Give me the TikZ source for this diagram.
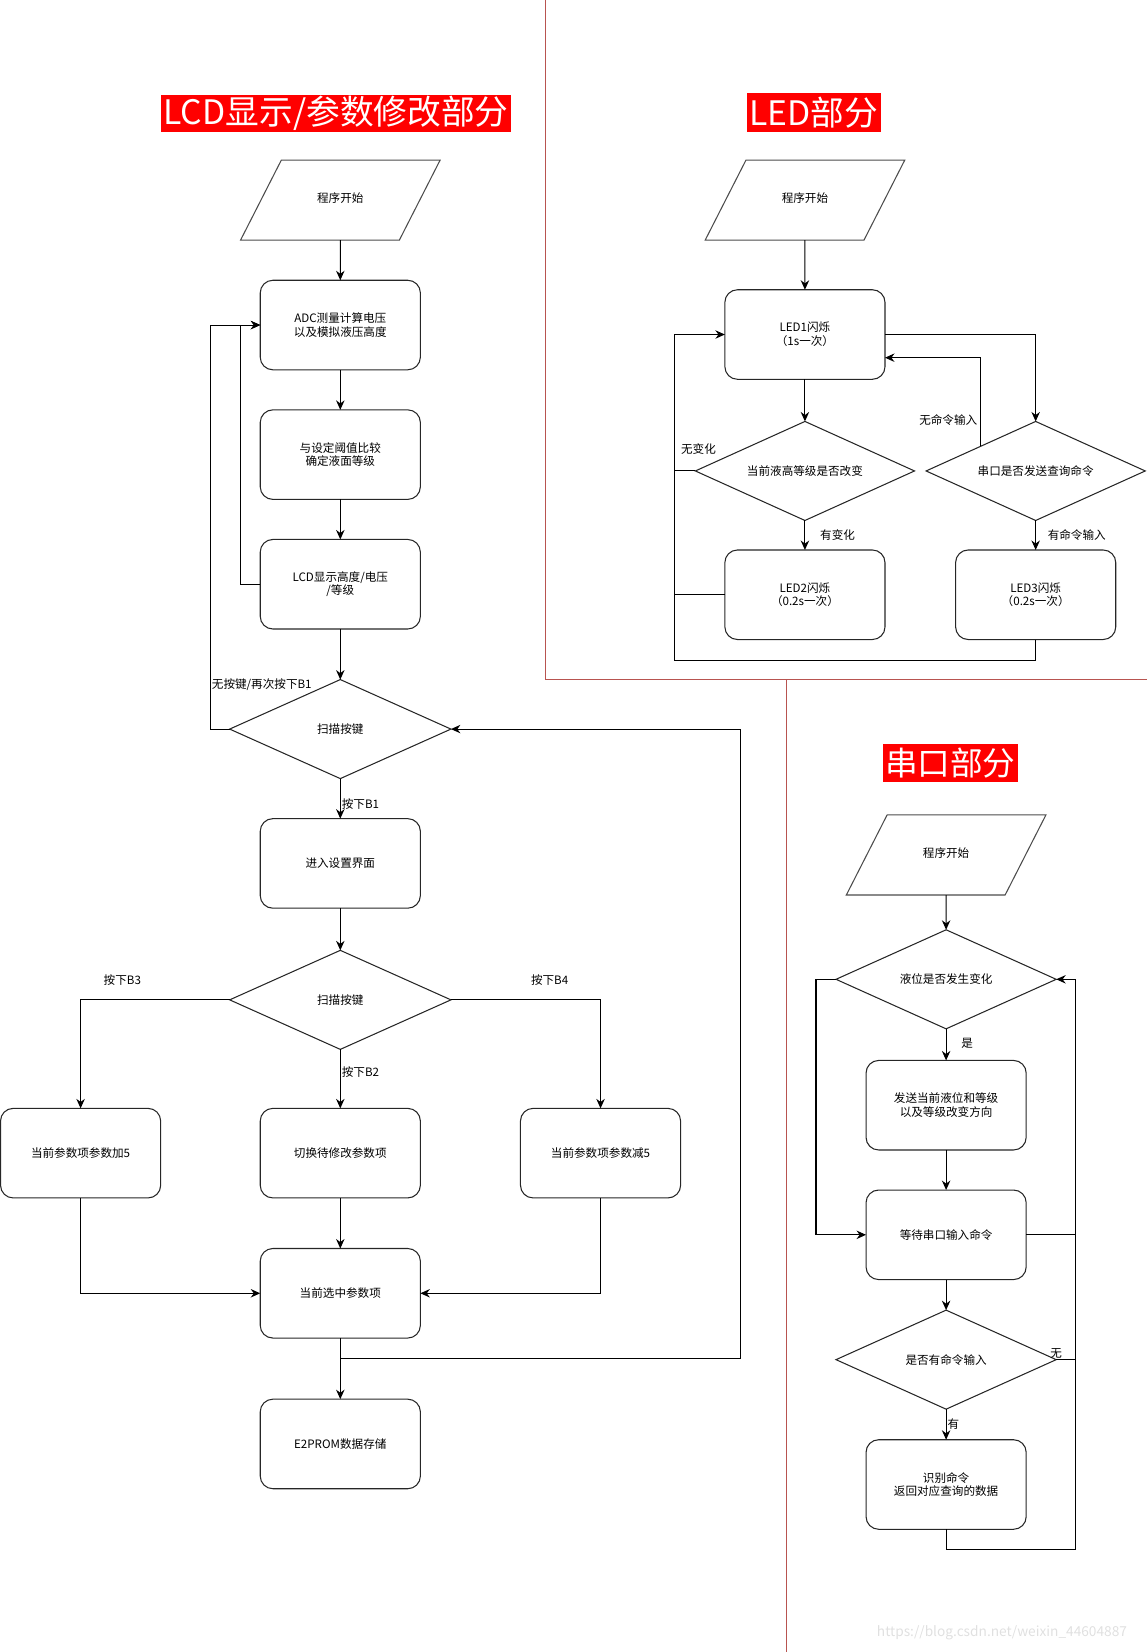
\documentclass[tikz,border=0pt]{standalone}
\usepackage{fontspec}
\setmainfont{Noto Sans CJK SC}
\usetikzlibrary{arrows.meta,positioning,shapes.geometric}
\definecolor{divred}{RGB}{184,84,80}
\definecolor{titlered}{RGB}{255,0,0}
\begin{document}
\begin{tikzpicture}[x=1pt,y=-1pt,node distance=38pt, every node/.style={font=\fontsize{11}{13}\selectfont},
  block/.style={draw=black!85, line width=1pt, rounded corners=12pt, align=center, minimum width=152pt, minimum height=85pt, inner sep=2pt, outer sep=0pt},
  io/.style={trapezium, trapezium left angle=63, trapezium right angle=117, draw=black!70, line width=1pt, text width=100pt, align=center, text height=8pt, text depth=3pt, inner xsep=6pt, inner ysep=32.5pt, outer sep=0pt},
  decision/.style={diamond, aspect=2.2, draw=black!85, line width=1pt, minimum width=210pt, minimum height=94pt, inner sep=0pt, outer sep=0pt, align=center},
  heading/.style={fill=titlered, text=white, inner sep=1pt, font=\fontsize{32}{34}\selectfont},
  lbl/.style={inner sep=1pt},
  line/.style={-{Stealth[length=9pt,width=8pt]}, line width=1pt},
  link/.style={line width=1pt},
  divider/.style={draw=divred, line width=0.8pt}]
  \useasboundingbox (0,0) rectangle (1089,1568);
  \draw[divider] (518,0) -- (518,645) -- (1089,645);
  \draw[divider] (746,645) -- (746,1568);

  \node[heading, minimum width=332pt, minimum height=35pt] (lcdtitle) at (319,107.5) {LCD显示/参数修改部分};
  \node[io] (lcdstart) at (323,190) {程序开始};
  \node[block, below=of lcdstart] (adc) {ADC测量计算电压\\以及模拟液压高度};
  \node[block, below=of adc] (cmp) {与设定阈值比较\\确定液面等级};
  \node[block, below=of cmp] (disp) {LCD显示高度/电压\\/等级};
  \node[decision, below=48pt of disp] (scan) {扫描按键};
  \node[block, below=of scan] (setup) {进入设置界面};
  \node[decision, below=40pt of setup] (scanset) {扫描按键};
  \node[block, below=56pt of scanset] (switch) {切换待修改参数项};
  \node[block, left=94.5pt of switch] (add) {当前参数项参数加5};
  \node[block, right=95pt of switch] (sub) {当前参数项参数减5};
  \node[block, below=48pt of switch] (cur) {当前选中参数项};
  \node[block, below=58pt of cur] (save) {E2PROM数据存储};
  \node[lbl, anchor=east] (nokey) at ([xshift=-26pt,yshift=-5pt]scan.north) {无按键/再次按下B1};
  \draw[line] (lcdstart) -- (adc);
  \draw[line] (adc) -- (cmp);
  \draw[line] (cmp) -- (disp);
  \draw[line] (disp) -- (scan);
  \draw[line] (disp.west) -- ++(-19,0) |- (adc.west);
  \draw[line] (scan.west) -- ++(-18,0) |- (adc.west);
  \draw[line] (scan) -- node[lbl, pos=0.63, anchor=west] (b1) {按下B1} (setup);
  \draw[line] (setup) -- (scanset);
  \draw[line] (scanset.west) -| node[lbl, pos=0.36, above=12pt] (b3) {按下B3} (add.north);
  \draw[line] (scanset.east) -| node[lbl, pos=0.33, above=12pt] (b4) {按下B4} (sub.north);
  \draw[line] (scanset) -- node[lbl, pos=0.39, anchor=west] (b2) {按下B2} (switch);
  \draw[line] (switch) -- (cur);
  \draw[line] (add.south) |- (cur.west);
  \draw[line] (sub.south) |- (cur.east);
  \draw[line] (cur) -- (save);
  \draw[line] (cur.south) -- ++(0,19) -| ([xshift=275pt]scan.east) -- (scan.east);

  \node[heading, minimum width=127pt, minimum height=37pt] (ledtitle) at (772.5,106.5) {LED部分};
  \node[io] (ledstart) at (764,190) {程序开始};
  \node[block, below=47pt of ledstart] (led1) {LED1闪烁\\（1s一次）};
  \node[decision, below=40pt of led1, minimum width=208pt] (chg) {当前液高等级是否改变};
  \node[block, below=28pt of chg] (led2) {LED2闪烁\\（0.2s一次）};
  \node[decision, right=11pt of chg, minimum width=208pt] (qry) {串口是否发送查询命令};
  \node[block, below=28pt of qry] (led3) {LED3闪烁\\（0.2s一次）};
  \draw[line] (ledstart) -- (led1);
  \draw[line] (led1) -- (chg);
  \draw[line] (chg) -- node[lbl, pos=0.5, right=13pt] (yes1) {有变化} (led2);
  \draw[line] (qry) -- node[lbl, pos=0.5, right=10pt] (yes2) {有命令输入} (led3);
  \draw[line] (led1.east) -| (qry.north);
  \draw[line] (qry.north west) |- node[lbl, pos=0.15, left=2pt] (no2) {无命令输入} ([yshift=-22pt]led1.east);
  \draw[line] (led3.south) -- ++(0,20) -| ([xshift=-48pt]led1.west) -- (led1.west);
  \draw[link] (chg.west) -- ++(-19,0) node[lbl, anchor=south west, xshift=4pt, yshift=14pt] (no1) {无变化};
  \draw[link] (led2.west) -- ++(-48,0);

  \node[heading, font=\fontsize{31}{33}\selectfont, minimum width=128pt, minimum height=36pt] (sertitle) at (902,724) {串口部分};
  \node[io] (serstart) at (898,811.5) {程序开始};
  \node[decision, below=33pt of serstart, minimum width=209pt] (lvl) {液位是否发生变化};
  \node[block, below=30pt of lvl] (send) {发送当前液位和等级\\以及等级改变方向};
  \node[block, below=of send] (wait) {等待串口输入命令};
  \node[decision, below=29pt of wait, minimum width=209pt] (cmd) {是否有命令输入};
  \node[block, below=29pt of cmd] (parse) {识别命令\\返回对应查询的数据};
  \draw[line] (serstart) -- (lvl);
  \draw[line] (lvl) -- node[lbl, pos=0.47, right=13pt] (yes3) {是} (send);
  \draw[line] (send) -- (wait);
  \draw[line] (wait) -- (cmd);
  \draw[line] (cmd) -- node[lbl, pos=0.5, anchor=west] (yes4) {有} (parse);
  \draw[line] (lvl.west) -- ++(-19,0) |- (wait.west);
  \draw[line] (parse.south) -- ++(0,19) -| ([xshift=18pt]lvl.east) -- (lvl.east);
  \draw[link] (wait.east) -- ++(47,0);
  \draw[link] (cmd.east) -- node[lbl, at start, above] (no3) {无} ++(18,0);

  \node[text=black!12, font=\fontsize{13}{15}\selectfont] (mark) at (951,1550) {https://blog.csdn.net/weixin\_44604887};
\end{tikzpicture}
\end{document}
